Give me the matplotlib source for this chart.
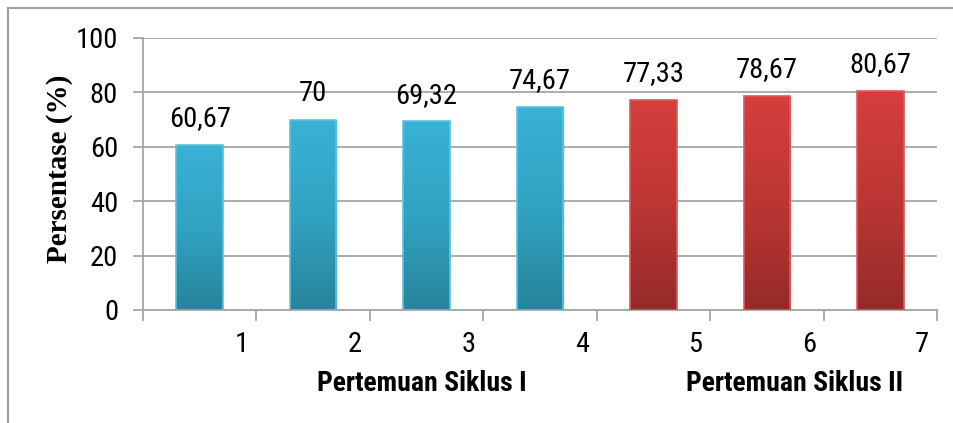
import matplotlib
matplotlib.use("Agg")
import matplotlib.pyplot as plt
import numpy as np
from matplotlib.colors import LinearSegmentedColormap
from matplotlib.patches import Rectangle
from matplotlib import font_manager

categories = ["1", "2", "3", "4", "5", "6", "7"]
values = [60.67, 70, 69.32, 74.67, 77.33, 78.67, 80.67]
value_labels = ["60,67", "70", "69,32", "74,67", "77,33", "78,67", "80,67"]
cycle = ["I", "I", "I", "I", "II", "II", "II"]
group_labels = ["Pertemuan Siklus I", "Pertemuan Siklus II"]
y_ticks = [0, 20, 40, 60, 80, 100]

avail = {f.name for f in font_manager.fontManager.ttflist}
narrow = "Liberation Sans"
for cand in ["Liberation Sans Narrow", "Arial Narrow", "Roboto Condensed",
             "Open Sans Condensed", "Noto Sans Condensed"]:
    if cand in avail:
        narrow = cand
        break
FS = 20.5

W, H = 954, 423
fig = plt.figure(figsize=(W / 100, H / 100), dpi=100)
ax = fig.add_axes([143 / W, 1 - 310 / H, (937 - 143) / W, (310 - 38) / H])

cmaps = {
    "I": LinearSegmentedColormap.from_list("b", ["#27849A", "#31A3C3", "#39B2D5"]),
    "II": LinearSegmentedColormap.from_list("r", ["#942B29", "#BC3634", "#D53F3C"]),
}
edges = {"I": "#5CC3DE", "II": "#DD5B57"}

x = np.arange(len(values))
bars = ax.bar(x, values, width=0.41, color="none", edgecolor="none", zorder=3)
grad = np.linspace(0, 1, 256).reshape(-1, 1)
for b, c in zip(bars, cycle):
    x0, y0, w, h = b.get_x(), b.get_y(), b.get_width(), b.get_height()
    sh = Rectangle((x0 + 0.012, y0), w, h, facecolor="#000000", alpha=0.08,
                   edgecolor="none", zorder=2)
    ax.add_patch(sh)
    im = ax.imshow(grad, cmap=cmaps[c], aspect="auto", origin="lower",
                   extent=[x0, x0 + w, y0, y0 + h], zorder=3)
    im.set_clip_path(b)
    ax.add_patch(Rectangle((x0, y0), w, h, facecolor="none",
                           edgecolor=edges[c], linewidth=1.2, zorder=4))

for xi, v, lab in zip(x, values, value_labels):
    ax.annotate(lab, (xi, v), xytext=(0, 13.5), textcoords="offset points",
                ha="center", va="baseline", fontsize=FS, family=narrow, zorder=5)

ax.set_xlim(-0.5, len(values) - 0.5)
ax.set_ylim(0, 100)
ax.set_yticks(y_ticks)
ax.set_yticklabels([str(t) for t in y_ticks], family=narrow, fontsize=FS)
ax.yaxis.grid(True, color="#A6A6A6", linewidth=1.3, zorder=0)
ax.set_axisbelow(True)

ax.set_xticks(np.arange(-0.5, len(values)), minor=False)
ax.set_xticklabels([])
ax.set_xticks(x + 0.37, minor=True)
ax.set_xticklabels(categories, minor=True, family=narrow, fontsize=FS)
ax.tick_params(axis="x", which="major", length=8, width=1.3, color="#A6A6A6")
ax.tick_params(axis="x", which="minor", length=0, pad=15)
ax.tick_params(axis="y", length=7, width=1.3, color="#A6A6A6", pad=11)

for s in ["top", "right"]:
    ax.spines[s].set_visible(False)
for s in ["left", "bottom"]:
    ax.spines[s].set_color("#A6A6A6")
    ax.spines[s].set_linewidth(1.3)

ax.set_ylabel("Persentase (%)", family="Liberation Serif", fontweight="bold",
              fontsize=21)
ax.yaxis.set_label_coords((73 - 143) / 794, 0.52)

fig.text(422 / W, 1 - 383 / H, group_labels[0], ha="center", va="center",
         family=narrow, fontweight="bold", fontsize=20)
fig.text(795 / W, 1 - 383 / H, group_labels[1], ha="center", va="center",
         family=narrow, fontweight="bold", fontsize=20)

fig.patches.append(Rectangle((8 / W, -0.2), 1.2, 1.2 - 8 / H, transform=fig.transFigure,
                             facecolor="none", edgecolor="#A0A0A0", linewidth=1.5,
                             zorder=0))

fig.savefig("out.png", dpi=100)
